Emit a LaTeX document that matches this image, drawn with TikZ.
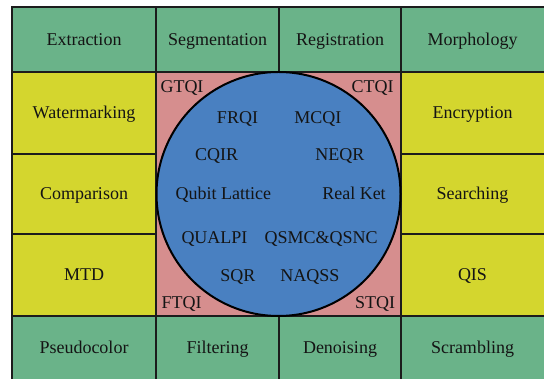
\documentclass[tikz,border=0pt]{standalone}
\usepackage{fontspec}
\setmainfont{Liberation Serif}
\definecolor{cgreen}{RGB}{106,179,137}
\definecolor{cyellow}{RGB}{212,214,46}
\definecolor{cpink}{RGB}{214,142,142}
\definecolor{cblue}{RGB}{73,128,193}
\definecolor{cline}{RGB}{28,28,28}
\tikzset{
  gcell/.style={fill=cgreen, draw=cline, line width=2pt},
  ycell/.style={fill=cyellow, draw=cline, line width=2pt},
  pcell/.style={fill=cpink, draw=cline, line width=2pt},
  lbl/.style={font=\fontsize{18}{20}\selectfont, anchor=base, inner sep=0pt, text=black!92},
}
\begin{document}
\begin{tikzpicture}[x=1pt,y=-1pt]
\useasboundingbox (0,0) rectangle (544,379);
\clip (0,0) rectangle (544,379);
% top row
\path[gcell] (11.5,7) rectangle (156,72);
\path[gcell] (156,7) rectangle (279,72);
\path[gcell] (279,7) rectangle (401,72);
\path[gcell] (401,7) rectangle (548,72);
% bottom row
\path[gcell] (11.5,316) rectangle (156,383);
\path[gcell] (156,316) rectangle (279,383);
\path[gcell] (279,316) rectangle (401,383);
\path[gcell] (401,316) rectangle (548,383);
% left column
\path[ycell] (11.5,72) rectangle (156,154);
\path[ycell] (11.5,154) rectangle (156,234);
\path[ycell] (11.5,234) rectangle (156,316);
% right column
\path[ycell] (401,72) rectangle (548,154);
\path[ycell] (401,154) rectangle (548,234);
\path[ycell] (401,234) rectangle (548,316);
% centre
\path[pcell] (156,72) rectangle (401,316);
\path[fill=cblue, draw=black, line width=2pt] (278.5,194) circle [radius=122pt];
% grid labels
\node[lbl] (extr) at (84,45.5) {Extraction};
\node[lbl] (segm) at (217.5,45.5) {Segmentation};
\node[lbl] (regi) at (340,45.5) {Registration};
\node[lbl] (morp) at (472.5,45.5) {Morphology};
\node[lbl] (wate) at (84,119) {Watermarking};
\node[lbl] (comp) at (84,200) {Comparison};
\node[lbl] (mtd) at (84,281) {MTD};
\node[lbl] (encr) at (472.5,119) {Encryption};
\node[lbl] (sear) at (472.5,200) {Searching};
\node[lbl] (qis) at (472.5,281) {QIS};
\node[lbl] (pseu) at (84,354) {Pseudocolor};
\node[lbl] (filt) at (217.5,354) {Filtering};
\node[lbl] (deno) at (340,354) {Denoising};
\node[lbl] (scra) at (472.5,354) {Scrambling};
% corner labels
\node[lbl] (gtqi) at (182,92.3) {GTQI};
\node[lbl] (ctqi) at (372.5,92.3) {CTQI};
\node[lbl] (ftqi) at (181.7,308.3) {FTQI};
\node[lbl] (stqi) at (375,308.3) {STQI};
% circle labels
\node[lbl] (frqi) at (237.5,123.3) {FRQI};
\node[lbl] (mcqi) at (317.8,123.3) {MCQI};
\node[lbl] (cqir) at (216.7,161) {CQIR};
\node[lbl] (neqr) at (339.8,161) {NEQR};
\node[lbl] (qubl) at (223.3,199.3) {Qubit Lattice};
\node[lbl] (rket) at (354,199.3) {Real Ket};
\node[lbl] (qualpi) at (214.5,243.3) {QUALPI};
\node[lbl] (qsmc) at (321.2,243.3) {QSMC\&QSNC};
\node[lbl] (sqr) at (237.8,281.7) {SQR};
\node[lbl] (naqss) at (310,281.7) {NAQSS};
\end{tikzpicture}
\end{document}
